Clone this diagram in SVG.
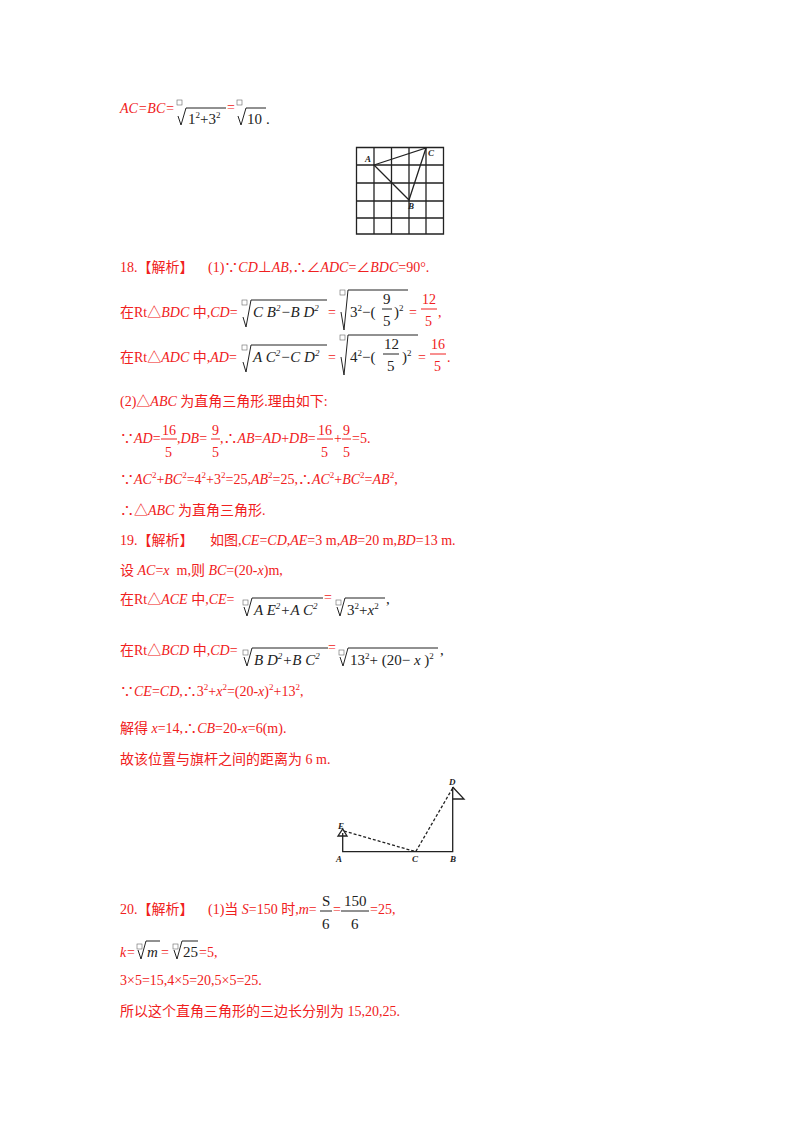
<svg xmlns="http://www.w3.org/2000/svg" width="800" height="1132" viewBox="0 0 800 1132">
<style>
text{font-family:"Liberation Serif","Noto Sans CJK SC",serif;font-size:14px;fill:#f02020}
.i{font-style:italic}
.k{fill:#222;font-size:15px}
.sup{font-size:9px}
.ln{stroke:#222;stroke-width:1;fill:none}
.rl{stroke:#f02020;stroke-width:1}
.g{stroke:#222;stroke-width:1.3;fill:none}
.bx{fill:none;stroke:#666;stroke-width:0.6}
.lb{font-family:"Liberation Serif",serif;font-style:italic;font-weight:bold;font-size:9px;fill:#222}
</style>
<rect width="800" height="1132" fill="#fff"/>

<!-- line 1 -->
<text x="120" y="113" class="i">AC=BC=</text>
<rect class="bx" x="177" y="100" width="5" height="5"/>
<path class="ln" d="M178 116 L181 125 L186 108 L226 108"/>
<text x="188" y="124" class="k">1<tspan class="sup" dy="-6">2</tspan><tspan dy="6">+3</tspan><tspan class="sup" dy="-6">2</tspan></text>
<text x="227" y="112">=</text>
<rect class="bx" x="237" y="100" width="5" height="5"/>
<path class="ln" d="M238 116 L241 125 L246 108 L266 108"/>
<text x="247" y="124" class="k">10</text>
<text x="266" y="124" class="k">.</text>

<!-- grid figure -->
<g id="grid">
<path class="g" d="M356.5 147.5H443.5V234H356.5Z M374 147.5V234 M391.5 147.5V234 M409 147.5V234 M426 147.5V234 M356.5 165H443.5 M356.5 183H443.5 M356.5 201H443.5 M356.5 218H443.5"/>
<path class="g" stroke-width="1.5" d="M374 165 L426 148 L409 200 Z"/>
<text class="lb" x="365" y="162">A</text>
<text class="lb" x="428" y="156">C</text>
<text class="lb" x="408" y="209">B</text>
</g>

<!-- 18 -->
<text x="120" y="272">18.【解析】<tspan x="208">(1)∵</tspan><tspan class="i">CD</tspan>⊥<tspan class="i">AB</tspan>,∴∠<tspan class="i">ADC</tspan>=∠<tspan class="i">BDC</tspan>=90°.</text>

<text x="120" y="317">在Rt△<tspan class="i">BDC</tspan> 中,<tspan class="i">CD</tspan>=</text>
<rect class="bx" x="242" y="300" width="5" height="5"/>
<path class="ln" d="M243 317 L246 327 L251 300 L327 300"/>
<text x="253" y="317" class="k i">C B<tspan class="sup" dy="-6">2</tspan><tspan dy="6">−B D</tspan><tspan class="sup" dy="-6">2</tspan></text>
<text x="328" y="317">=</text>
<rect class="bx" x="340" y="290" width="5" height="5"/>
<path class="ln" d="M341 312 L344 330 L348 290 L408 290"/>
<text x="350" y="317" class="k">3<tspan class="sup" dy="-6">2</tspan><tspan dy="6">−(</tspan></text>
<text x="383" y="304" class="k">9</text><line class="ln" x1="382" y1="309" x2="392" y2="309"/><text x="383" y="326" class="k">5</text>
<text x="394" y="317" class="k">)<tspan class="sup" dy="-6">2</tspan></text>
<text x="409" y="317">=</text>
<text x="422" y="304">12</text><line class="rl" x1="421" y1="309" x2="437" y2="309"/><text x="425" y="326">5</text>
<text x="438" y="317">,</text>

<text x="120" y="362">在Rt△<tspan class="i">ADC</tspan> 中,<tspan class="i">AD</tspan>=</text>
<rect class="bx" x="242" y="345" width="5" height="5"/>
<path class="ln" d="M243 362 L246 372 L251 345 L327 345"/>
<text x="253" y="362" class="k i">A C<tspan class="sup" dy="-6">2</tspan><tspan dy="6">−C D</tspan><tspan class="sup" dy="-6">2</tspan></text>
<text x="328" y="362">=</text>
<rect class="bx" x="340" y="335" width="5" height="5"/>
<path class="ln" d="M341 357 L344 375 L348 335 L418 335"/>
<text x="350" y="362" class="k">4<tspan class="sup" dy="-6">2</tspan><tspan dy="6">−(</tspan></text>
<text x="384" y="349" class="k">12</text><line class="ln" x1="383" y1="354" x2="399" y2="354"/><text x="387" y="371" class="k">5</text>
<text x="402" y="362" class="k">)<tspan class="sup" dy="-6">2</tspan></text>
<text x="418" y="362">=</text>
<text x="431" y="349">16</text><line class="rl" x1="430" y1="354" x2="446" y2="354"/><text x="434" y="371">5</text>
<text x="447" y="362">.</text>

<text x="120" y="406">(2)△<tspan class="i">ABC</tspan> 为直角三角形.理由如下:</text>

<text x="120" y="443">∵<tspan class="i">AD</tspan>=</text>
<text x="162" y="435">16</text><line class="rl" x1="161" y1="439" x2="177" y2="439"/><text x="165" y="457">5</text>
<text x="177" y="443">,<tspan class="i">DB</tspan>=</text>
<text x="212" y="435">9</text><line class="rl" x1="211" y1="439" x2="220" y2="439"/><text x="212" y="457">5</text>
<text x="220" y="443">,∴<tspan class="i">AB</tspan>=<tspan class="i">AD</tspan>+<tspan class="i">DB</tspan>=</text>
<text x="318" y="435">16</text><line class="rl" x1="317" y1="439" x2="333" y2="439"/><text x="321" y="457">5</text>
<text x="334" y="443">+</text>
<text x="343" y="435">9</text><line class="rl" x1="342" y1="439" x2="351" y2="439"/><text x="343" y="457">5</text>
<text x="352" y="443">=5.</text>

<text x="120" y="484">∵<tspan class="i">AC</tspan><tspan class="sup" dy="-6">2</tspan><tspan dy="6">+</tspan><tspan class="i">BC</tspan><tspan class="sup" dy="-6">2</tspan><tspan dy="6">=4</tspan><tspan class="sup" dy="-6">2</tspan><tspan dy="6">+3</tspan><tspan class="sup" dy="-6">2</tspan><tspan dy="6">=25,</tspan><tspan class="i">AB</tspan><tspan class="sup" dy="-6">2</tspan><tspan dy="6">=25,∴</tspan><tspan class="i">AC</tspan><tspan class="sup" dy="-6">2</tspan><tspan dy="6">+</tspan><tspan class="i">BC</tspan><tspan class="sup" dy="-6">2</tspan><tspan dy="6">=</tspan><tspan class="i">AB</tspan><tspan class="sup" dy="-6">2</tspan><tspan dy="6">,</tspan></text>
<text x="120" y="515">∴△<tspan class="i">ABC</tspan> 为直角三角形.</text>

<!-- 19 -->
<text x="120" y="545">19.【解析】<tspan x="210">如图,</tspan><tspan class="i">CE</tspan>=<tspan class="i">CD</tspan>,<tspan class="i">AE</tspan>=3 m,<tspan class="i">AB</tspan>=20 m,<tspan class="i">BD</tspan>=13 m.</text>
<text x="120" y="575">设 <tspan class="i">AC</tspan>=<tspan class="i">x</tspan><tspan dx="7">m,则 </tspan><tspan class="i">BC</tspan>=(20-<tspan class="i">x</tspan>)m,</text>

<text x="120" y="604">在Rt△<tspan class="i">ACE</tspan> 中,<tspan class="i">CE</tspan>=</text>
<rect class="bx" x="243" y="600" width="5" height="5"/>
<path class="ln" d="M244 607 L247 616 L252 598 L323 598"/>
<text x="254" y="615" class="k i">A E<tspan class="sup" dy="-6">2</tspan><tspan dy="6">+A C</tspan><tspan class="sup" dy="-6">2</tspan></text>
<text x="324" y="602">=</text>
<rect class="bx" x="336" y="600" width="5" height="5"/>
<path class="ln" d="M337 607 L340 616 L345 598 L385 598"/>
<text x="347" y="615" class="k">3<tspan class="sup" dy="-6">2</tspan><tspan dy="6">+</tspan><tspan class="i">x</tspan><tspan class="sup" dy="-6">2</tspan></text>
<text x="386" y="604" class="k">,</text>

<text x="120" y="655">在Rt△<tspan class="i">BCD</tspan> 中,<tspan class="i">CD</tspan>=</text>
<rect class="bx" x="243" y="650" width="5" height="5"/>
<path class="ln" d="M244 657 L247 666 L252 648 L328 648"/>
<text x="254" y="665" class="k i">B D<tspan class="sup" dy="-6">2</tspan><tspan dy="6">+B C</tspan><tspan class="sup" dy="-6">2</tspan></text>
<text x="328" y="652">=</text>
<rect class="bx" x="339" y="650" width="5" height="5"/>
<path class="ln" d="M340 657 L343 666 L348 648 L438 648"/>
<text x="350" y="665" class="k">13<tspan class="sup" dy="-6">2</tspan><tspan dy="6">+ (20− </tspan><tspan class="i">x</tspan> )<tspan class="sup" dy="-6">2</tspan></text>
<text x="440" y="655" class="k">,</text>

<text x="120" y="696">∵<tspan class="i">CE</tspan>=<tspan class="i">CD</tspan>,∴3<tspan class="sup" dy="-6">2</tspan><tspan dy="6">+</tspan><tspan class="i">x</tspan><tspan class="sup" dy="-6">2</tspan><tspan dy="6">=(20-</tspan><tspan class="i">x</tspan>)<tspan class="sup" dy="-6">2</tspan><tspan dy="6">+13</tspan><tspan class="sup" dy="-6">2</tspan><tspan dy="6">,</tspan></text>
<text x="120" y="733">解得 <tspan class="i">x</tspan>=14,∴<tspan class="i">CB</tspan>=20-<tspan class="i">x</tspan>=6(m).</text>
<text x="120" y="764">故该位置与旗杆之间的距离为 6 m.</text>

<!-- flag figure -->
<g id="flags">
<path class="g" stroke-width="1.6" d="M342.7 833 V851.7 H452.7 V787"/>
<path class="g" d="M338 836 L347 836 L342.7 829 Z"/>
<path class="g" d="M452.7 787 L464 799 L452.7 799"/>
<path class="g" stroke-dasharray="3,2" d="M344 831 L415.7 851.7 L452.7 788"/>
<text class="lb" x="338" y="829">E</text>
<text class="lb" x="449" y="785">D</text>
<text class="lb" x="336" y="862">A</text>
<text class="lb" x="412" y="862">C</text>
<text class="lb" x="450" y="862">B</text>
</g>

<!-- 20 -->
<text x="120" y="914">20.【解析】<tspan x="208">(1)当 </tspan><tspan class="i">S</tspan>=150 时,<tspan class="i">m</tspan>=</text>
<text x="322" y="906" class="k">S</text><line class="ln" x1="320" y1="911" x2="332" y2="911"/><text x="322" y="929" class="k">6</text>
<text x="333" y="914">=</text>
<text x="344" y="906" class="k">150</text><line class="ln" x1="341" y1="911" x2="369" y2="911"/><text x="351" y="929" class="k">6</text>
<text x="370" y="914">=25,</text>

<text x="120" y="957" class="i">k</text><text x="127" y="957">=</text>
<rect class="bx" x="137" y="944" width="5" height="5"/>
<path class="ln" d="M138 950 L141 959 L146 941 L160 941"/>
<text x="147" y="957" class="k i">m</text>
<text x="161" y="957">=</text>
<rect class="bx" x="173" y="944" width="5" height="5"/>
<path class="ln" d="M174 950 L177 959 L182 941 L198 941"/>
<text x="183" y="957" class="k">25</text>
<text x="199" y="957">=5,</text>

<text x="120" y="985">3×5=15,4×5=20,5×5=25.</text>
<text x="120" y="1016">所以这个直角三角形的三边长分别为 15,20,25.</text>
</svg>
